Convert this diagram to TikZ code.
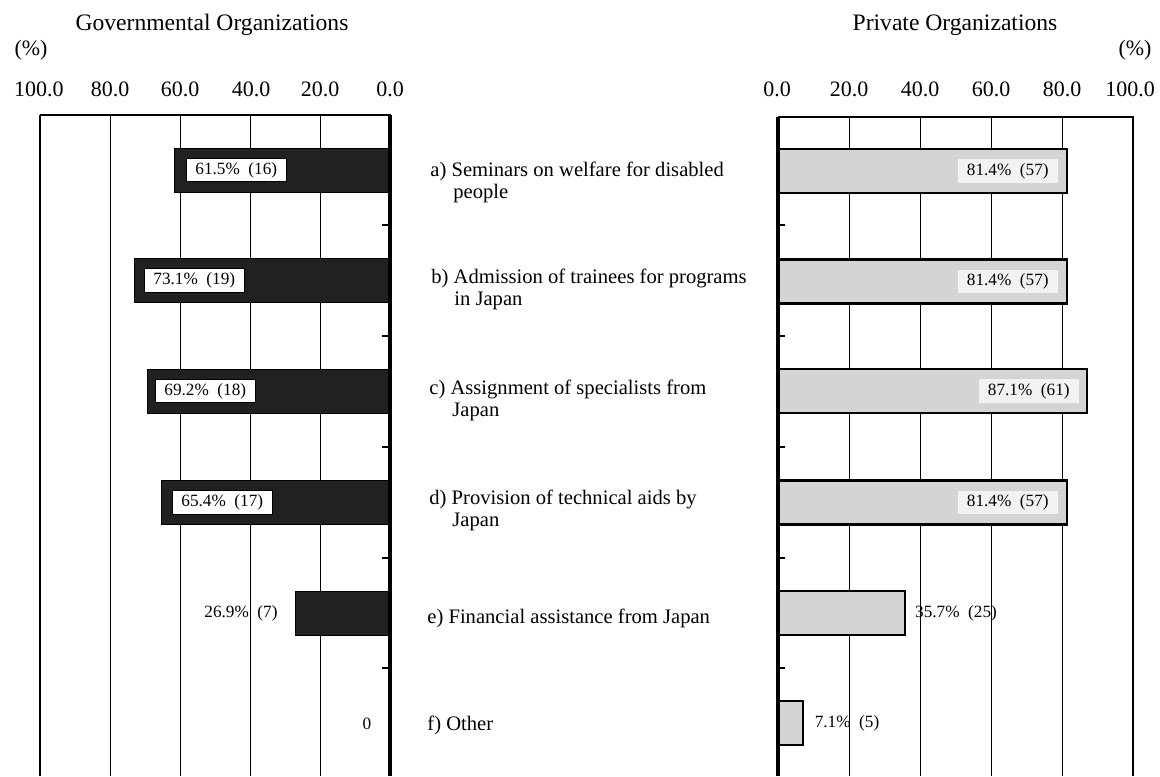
\documentclass[tikz,border=0pt]{standalone}
\usepackage{fontspec}
\setmainfont{Liberation Serif}
\newcommand{\tms}{\fontsize{8.6}{9.6}\selectfont}
\begin{document}
\begin{tikzpicture}[x=0.5pt,y=-0.5pt,
  gridln/.style={line width=0.5pt},
  tickln/.style={line width=0.6pt},
  govbar/.style={fill=black!87, draw=black, line width=0.5pt},
  privbar/.style={fill=black!17, draw=black, line width=1.1pt},
  govlab/.style={draw=black, fill=white, line width=0.4pt, font=\tms, inner xsep=4.5pt, inner ysep=2pt, anchor=west},
  privlab/.style={fill=black!5, font=\tms, inner xsep=4.5pt, inner ysep=2pt, anchor=east},
  freelab/.style={font=\tms, inner sep=0pt},
  axlab/.style={font=\fontsize{11}{12}\selectfont, inner sep=0pt},
  head/.style={font=\fontsize{11.8}{13}\selectfont, inner sep=0pt},
  itemlab/.style={font=\fontsize{10.3}{11}\selectfont, align=left, anchor=north west, inner sep=0pt}
]
\useasboundingbox (0,0) rectangle (1160,776);

% headers
\node[head] (hgov) at (212,25) {Governmental Organizations};
\node[head] (hpriv) at (955,25) {Private Organizations};
\node[axlab] (pl) at (31,50) {(\%)};
\node[axlab] (pr) at (1135,50) {(\%)};

% axis labels left
\node[axlab] (l100) at (39,89) {100.0};
\node[axlab] (l80) at (110,89) {80.0};
\node[axlab] (l60) at (180,89) {60.0};
\node[axlab] (l40) at (251,89) {40.0};
\node[axlab] (l20) at (320,89) {20.0};
\node[axlab] (l0) at (390,89) {0.0};
% axis labels right
\node[axlab] (r0) at (777,89) {0.0};
\node[axlab] (r20) at (849,89) {20.0};
\node[axlab] (r40) at (920,89) {40.0};
\node[axlab] (r60) at (991,89) {60.0};
\node[axlab] (r80) at (1062,89) {80.0};
\node[axlab] (r100) at (1130,89) {100.0};

% grid lines
\foreach \x in {110,180,250,320} \draw[gridln] (\x,115) -- (\x,776);
\foreach \x in {849,920,991,1062} \draw[gridln] (\x,117) -- (\x,776);

% left bars (Governmental), 3.5px per %
\draw[govbar] (174.75,148) rectangle (390,192);
\draw[govbar] (134.15,258.5) rectangle (390,302.5);
\draw[govbar] (147.8,369) rectangle (390,413);
\draw[govbar] (161.1,480.5) rectangle (390,524.5);
\draw[govbar] (295.85,591) rectangle (390,635);

\node[govlab] (ga) at (186,170) {61.5\%\ \ (16)};
\node[govlab] (gb) at (144,280.5) {73.1\%\ \ (19)};
\node[govlab] (gc) at (155,391) {69.2\%\ \ (18)};
\node[govlab] (gd) at (172,502.5) {65.4\%\ \ (17)};
\node[freelab] (ge) at (241,613) {26.9\%\ \ (7)};
\node[freelab] (gf) at (367,724) {0};

% right bars (Private), 3.55px per %
\draw[privbar] (778,149) rectangle (1067,193);
\draw[privbar] (778,259.5) rectangle (1067,303.5);
\draw[privbar] (778,369) rectangle (1087,413);
\draw[privbar] (778,480.5) rectangle (1067,524.5);
\draw[privbar] (778,591) rectangle (904.7,635);
\draw[privbar] (778,701) rectangle (803.2,745);

\node[privlab] (pa) at (1058,171) {81.4\%\ \ (57)};
\node[privlab] (pb) at (1058,281.5) {81.4\%\ \ (57)};
\node[privlab] (pc) at (1079,391) {87.1\%\ \ (61)};
\node[privlab] (pd) at (1058,502.5) {81.4\%\ \ (57)};
\node[freelab] (pe) at (956,613) {35.7\%\ \ (25)};
\node[freelab] (pf) at (847,723) {7.1\%\ \ (5)};

% frames
\draw[line width=0.7pt] (40,115) -- (40,776);
\draw[line width=1.1pt] (39.5,115) -- (390.5,115);
\draw[line width=1.6pt] (390,114.5) -- (390,776);
\draw[line width=1.6pt] (778,116.5) -- (778,776);
\draw[line width=1.1pt] (777.5,117) -- (1133.5,117);
\draw[line width=1pt] (1133,116.5) -- (1133,776);

% small ticks
\foreach \y in {225,336,447,558,668} {
  \draw[tickln] (382,\y) -- (390,\y);
  \draw[tickln] (778,\y) -- (785,\y);
}

% middle category labels
\node[itemlab] (ca) at (430,162) {a) Seminars on welfare for disabled\\\hspace*{11.5pt}people};
\node[itemlab] (cb) at (431,269) {b) Admission of trainees for programs\\\hspace*{11.5pt}in Japan};
\node[itemlab] (cc) at (429,380) {c) Assignment of specialists from\\\hspace*{11.5pt}Japan};
\node[itemlab] (cd) at (429,490) {d) Provision of technical aids by\\\hspace*{11.5pt}Japan};
\node[itemlab] (ce) at (427,609) {e) Financial assistance from Japan};
\node[itemlab] (cf) at (427,716) {f) Other};
\end{tikzpicture}
\end{document}
